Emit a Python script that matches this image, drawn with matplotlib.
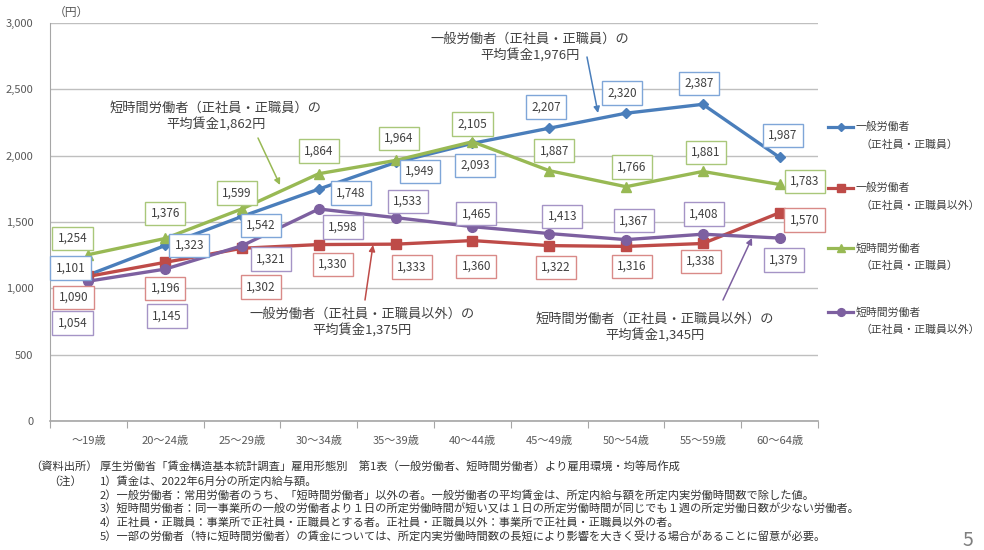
import matplotlib
matplotlib.use('Agg')
import matplotlib.pyplot as plt
from matplotlib.lines import Line2D
import numpy as np

plt.rcParams['font.family'] = ['Noto Sans CJK JP', 'DejaVu Sans']

# ---------------- data ----------------
categories = ['～19歳', '20～24歳', '25～29歳', '30～34歳', '35～39歳',
              '40～44歳', '45～49歳', '50～54歳', '55～59歳', '60～64歳']
general_regular = [1101, 1323, 1542, 1748, 1949, 2093, 2207, 2320, 2387, 1987]
general_nonregular = [1090, 1196, 1302, 1330, 1333, 1360, 1322, 1316, 1338, 1570]
short_regular = [1254, 1376, 1599, 1864, 1964, 2105, 1887, 1766, 1881, 1783]
short_nonregular = [1054, 1145, 1321, 1598, 1533, 1465, 1413, 1367, 1408, 1379]

legend_line1 = ['一般労働者', '一般労働者', '短時間労働者', '短時間労働者']
legend_line2 = ['（正社員・正職員）', '（正社員・正職員以外）', '（正社員・正職員）', '（正社員・正職員以外）']

callout_texts = [
    '一般労働者（正社員・正職員）の\n平均賃金1,976円',
    '短時間労働者（正社員・正職員）の\n平均賃金1,862円',
    '一般労働者（正社員・正職員以外）の\n平均賃金1,375円',
    '短時間労働者（正社員・正職員以外）の\n平均賃金1,345円',
]

yticks = [0, 500, 1000, 1500, 2000, 2500, 3000]

notes = [
    ('（資料出所）', '厚生労働省「賃金構造基本統計調査」雇用形態別　第1表（一般労働者、短時間労働者）より雇用環境・均等局作成'),
    ('（注）', '1）賃金は、2022年6月分の所定内給与額。'),
    ('', '2）一般労働者：常用労働者のうち、「短時間労働者」以外の者。一般労働者の平均賃金は、所定内給与額を所定内実労働時間数で除した値。'),
    ('', '3）短時間労働者：同一事業所の一般の労働者より１日の所定労働時間が短い又は１日の所定労働時間が同じでも１週の所定労働日数が少ない労働者。'),
    ('', '4）正社員・正職員：事業所で正社員・正職員とする者。正社員・正職員以外：事業所で正社員・正職員以外の者。'),
    ('', '5）一部の労働者（特に短時間労働者）の賃金については、所定内実労働時間数の長短により影響を大きく受ける場合があることに留意が必要。'),
]

# ---------------- styles ----------------
W, H = 984, 550
colors = ['#4A7EBB', '#BE4B48', '#98B954', '#7D60A0']
box_edges = ['#7FA6D8', '#D98A88', '#A9C77A', '#A594C6']
markers = ['D', 's', '^', 'o']
msizes = [5, 7, 7.5, 7]
text_col = '#404040'

# label offsets in pixels (dx, dy upward)
offsets = [
    [(-18, 7), (24, 0), (19, -9), (32, -4), (24, -9), (3, -22), (-3, 21), (-4, 20), (-4, 21), (3, 22)],
    [(-15, -21), (0, -26), (19, -39), (14, -20), (16, -23), (4, -26), (7, -22), (6, -20), (-2, -18), (25, -7)],
    [(-16, 16), (0, 25), (-5, 16), (0, 23), (3, 22), (0, 18), (5, 20), (6, 20), (3, 19), (25, 3)],
    [(-16, -42), (2, -47), (29, -13), (24, -18), (12, 16), (4, 13), (13, 17), (8, 19), (1, 20), (4, -22)],
]

fig = plt.figure(figsize=(W / 100, H / 100), dpi=100)
fig.patch.set_facecolor('white')

ax_l, ax_r, ax_t, ax_b = 50, 818, 23, 421
ax = fig.add_axes([ax_l / W, 1 - ax_b / H, (ax_r - ax_l) / W, (ax_b - ax_t) / H])

x = np.arange(len(categories))
all_series = [general_regular, general_nonregular, short_regular, short_nonregular]

for i, s in enumerate(all_series):
    ax.plot(x, s, color=colors[i], lw=2.4, marker=markers[i], ms=msizes[i],
            mfc=colors[i], mec=colors[i], zorder=3, solid_capstyle='round')

for i, s in enumerate(all_series):
    for j, v in enumerate(s):
        dx, dy = offsets[i][j]
        ax.annotate(f'{v:,}', xy=(x[j], v), xytext=(dx, dy), textcoords='offset pixels',
                    ha='center', va='center', fontsize=8.5, color=text_col, zorder=5,
                    bbox=dict(boxstyle='square,pad=0.45', fc='white', ec=box_edges[i], lw=1.0))

ax.set_xlim(-0.5, len(categories) - 0.5)
ax.set_ylim(0, 3000)
ax.set_yticks(yticks)
ax.set_yticklabels([f'{t:,}' for t in yticks], fontsize=8, color='#595959')
ax.yaxis.grid(True, color='#BFBFBF', lw=1.0)
ax.set_axisbelow(True)
ax.tick_params(axis='y', length=0, pad=12)

ax.set_xticks(np.arange(len(categories) + 1) - 0.5)
ax.set_xticklabels([])
ax.tick_params(axis='x', which='major', length=5, color='#A6A6A6', direction='out')
ax.set_xticks(x, minor=True)
ax.set_xticklabels(categories, minor=True, fontsize=8, color='#595959')
ax.tick_params(axis='x', which='minor', length=0, pad=11)

for sp in ['top', 'right']:
    ax.spines[sp].set_visible(False)
ax.spines['left'].set_color('#A6A6A6')
ax.spines['bottom'].set_color('#A6A6A6')
ax.spines['bottom'].set_linewidth(1.2)

fig.text(54 / W, 1 - 12 / H, '（円）', fontsize=8.5, color='#595959', va='center', ha='left')

def afrac(px, py):
    return ((px - ax_l) / (ax_r - ax_l), (ax_b - py) / (ax_b - ax_t))

callouts = [
    ((530, 48), (587, 57), (598, 113), colors[0]),
    ((216, 117), (258, 138), (280, 185), colors[2]),
    ((362, 323), (365, 300), (373, 245), colors[1]),
    ((655, 328), (723, 300), (752, 238), colors[3]),
]
for txt, (tc, tail, head, c) in zip(callout_texts, callouts):
    ax.text(*afrac(*tc), txt, transform=ax.transAxes, ha='center', va='center',
            fontsize=9.5, color=text_col, linespacing=1.25, zorder=6)
    ax.annotate('', xy=afrac(*head), xycoords='axes fraction', xytext=afrac(*tail),
                textcoords='axes fraction',
                arrowprops=dict(arrowstyle='-|>', color=c, lw=1.1, mutation_scale=9,
                                shrinkA=0, shrinkB=0), zorder=6)

# legend
leg_y = [127, 188, 248, 312]
for i in range(4):
    y = 1 - leg_y[i] / H
    fig.add_artist(Line2D([828 / W, 853 / W], [y, y], transform=fig.transFigure,
                          color=colors[i], lw=2.3))
    fig.add_artist(Line2D([840.5 / W], [y], transform=fig.transFigure, marker=markers[i],
                          ms=msizes[i] * 0.8, color=colors[i], lw=0))
    fig.text(856 / W, y, legend_line1[i], fontsize=7.8, color=text_col, va='center', ha='left')
    fig.text(860 / W, 1 - (leg_y[i] + 18) / H, legend_line2[i], fontsize=7.8, color=text_col,
             va='center', ha='left')

# notes
note_y = [467, 481, 495, 509, 523, 537]
label_x = [30, 48]
for k, ((lbl, body), ny) in enumerate(zip(notes, note_y)):
    yy = 1 - ny / H
    if lbl:
        fig.text(label_x[k] / W, yy, lbl, fontsize=8.1, color='#333333', ha='left', va='center')
    fig.text(100 / W, yy, body, fontsize=8.1, color='#333333', ha='left', va='center')

fig.text(968 / W, 1 - 540 / H, '5', fontsize=14, color='#7F7F7F', ha='center', va='center')

fig.savefig('out.png', dpi=100, facecolor='white')
